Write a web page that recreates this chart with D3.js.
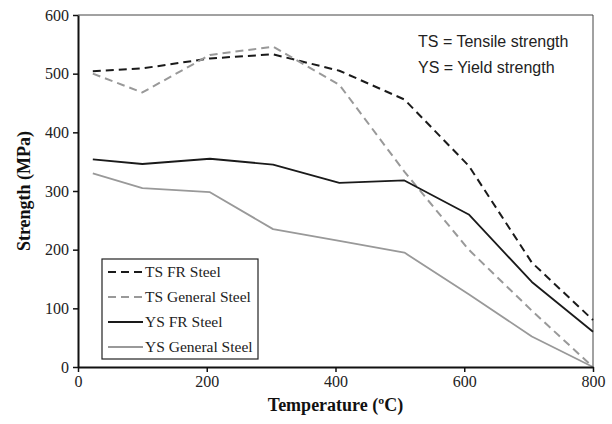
<!DOCTYPE html>
<html>
<head>
<meta charset="utf-8">
<script src="https://cdn.jsdelivr.net/npm/d3@7"></script>
<style>
	body { margin: 0; background: #fff; }
	svg { display: block; }
	.tick text { font-family: "Liberation Serif", "Times New Roman", serif; font-size: 16px; fill: #222; }
</style>
</head>
<body>
<svg id="chart" width="612" height="424"></svg>
<script>
// temperatures (ºC) where the values were read
var temps = [23, 100, 205, 303, 406, 507, 607, 705, 800];

var tsFR = [504, 509, 526, 533, 505, 456, 343, 178, 80];
var tsGeneral = [500, 468, 532, 546, 481, 333, 200, 96, 0];
var ysFR = [354, 346, 355, 345, 314, 318, 260, 145, 60];
var ysGeneral = [330, 305, 298, 235, 215, 195, 124, 52, 0];

var seriesNames = ['TS FR Steel', 'TS General Steel', 'YS FR Steel', 'YS General Steel'];
var xTicks = [0, 200, 400, 600, 800];
var yTicks = [0, 100, 200, 300, 400, 500, 600];

var series = [
	{name: seriesNames[0], values: tsFR, color: '#1a1a1a', dash: '8,5', width: 2},
	{name: seriesNames[1], values: tsGeneral, color: '#999999', dash: '8,5', width: 2},
	{name: seriesNames[2], values: ysFR, color: '#1a1a1a', dash: null, width: 1.8},
	{name: seriesNames[3], values: ysGeneral, color: '#999999', dash: null, width: 1.8}
];

var svg = d3.select('#chart');
// note: "top" is taken by window.top
var padLeft = 78, padRight = 593, padTop = 15, padBottom = 367;

var xScale = d3.scaleLinear().domain([0, 800]).range([padLeft, padRight]);
var yScale = d3.scaleLinear().domain([0, 600]).range([padBottom, padTop]);

// frame top + right
svg.append('line').attr('x1', padLeft).attr('x2', padRight).attr('y1', padTop).attr('y2', padTop)
	.attr('stroke', '#444').attr('stroke-width', 1);
svg.append('line').attr('x1', padRight).attr('x2', padRight).attr('y1', padTop).attr('y2', padBottom)
	.attr('stroke', '#444').attr('stroke-width', 1);

///lines
var line = d3.line()
	.x(function (d, i) { return xScale(temps[i]); })
	.y(function (d) { return yScale(d); });

svg.append('g').selectAll('path')
	.data(series)
	.enter()
	.append('path')
	.attr('d', function (d) { return line(d.values); })
	.attr('fill', 'none')
	.attr('stroke', function (d) { return d.color; })
	.attr('stroke-width', function (d) { return d.width; })
	.attr('stroke-dasharray', function (d) { return d.dash; })
	.attr('stroke-linejoin', 'round');

///axes
var xAxis = d3.axisBottom(xScale).tickValues(xTicks).tickSize(5).tickSizeOuter(0).tickPadding(4);
var yAxis = d3.axisLeft(yScale).tickValues(yTicks).tickSize(5).tickSizeOuter(0).tickPadding(4);

var gx = svg.append('g').attr('transform', 'translate(' + [0, padBottom] + ')').call(xAxis);
var gy = svg.append('g').attr('transform', 'translate(' + [padLeft, 0] + ')').call(yAxis);
[gx, gy].forEach(function (g) {
	g.select('.domain').attr('stroke', '#111').attr('stroke-width', 2);
	g.selectAll('.tick line').attr('stroke', '#111').attr('stroke-width', 1.5);
});

///axis titles
svg.append('text')
	.attr('x', (padLeft + padRight) / 2).attr('y', 411)
	.attr('text-anchor', 'middle')
	.style('font-family', '"Liberation Serif", serif').style('font-weight', 'bold').style('font-size', '18px')
	.attr('fill', '#111')
	.text('Temperature (ºC)');
svg.append('text')
	.attr('transform', 'translate(' + [30, (padTop + padBottom) / 2] + ') rotate(-90)')
	.attr('text-anchor', 'middle')
	.style('font-family', '"Liberation Serif", serif').style('font-weight', 'bold').style('font-size', '18px')
	.attr('fill', '#111')
	.text('Strength (MPa)');

///notes
var notes = ['TS = Tensile strength', 'YS = Yield strength'];
svg.append('g').selectAll('text')
	.data(notes)
	.enter()
	.append('text')
	.attr('x', 418)
	.attr('y', function (d, i) { return 47 + i * 26; })
	.style('font-family', '"Liberation Sans", Arial, sans-serif').style('font-size', '16px')
	.attr('fill', '#222')
	.text(function (d) { return d; });

///legend
var legend = svg.append('g');
legend.append('rect')
	.attr('x', 102).attr('y', 259).attr('width', 156).attr('height', 100)
	.attr('fill', '#fff').attr('stroke', '#222').attr('stroke-width', 1.2);
var rows = legend.selectAll('g.row')
	.data(series)
	.enter()
	.append('g')
	.attr('class', 'row')
	.attr('transform', function (d, i) { return 'translate(' + [108, 272 + i * 25] + ')'; });
rows.append('line')
	.attr('x1', 0).attr('x2', 35).attr('y1', 0).attr('y2', 0)
	.attr('stroke', function (d) { return d.color; })
	.attr('stroke-width', function (d) { return d.width; })
	.attr('stroke-dasharray', function (d) { return d.dash; });
rows.append('text')
	.attr('x', 37).attr('y', 5)
	.style('font-family', '"Liberation Serif", serif').style('font-size', '15.5px')
	.attr('fill', '#222')
	.text(function (d) { return d.name; });
</script>
</body>
</html>
